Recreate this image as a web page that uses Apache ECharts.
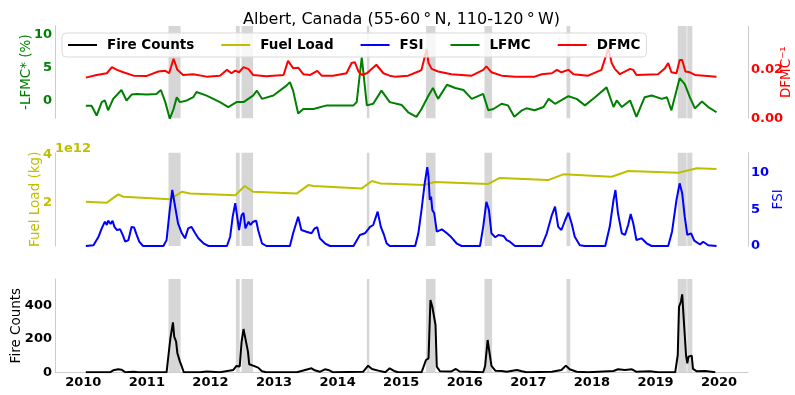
<!DOCTYPE html>
<html>
<head>
<meta charset="utf-8">
<script src="https://cdn.jsdelivr.net/npm/echarts@6/dist/echarts.min.js"></script>
<style>
  html, body { margin: 0; padding: 0; background: #fff; }
  #chart { width: 795px; height: 395px; }
</style>
</head>
<body>
<div id="chart"></div>
<script>
// Time is expressed in decimal years.
const yearTicks = [2010, 2011, 2012, 2013, 2014, 2015, 2016, 2017, 2018, 2019, 2020];

// Fire-season windows shaded on every panel
const seasonStart = [2011.34, 2012.40, 2012.49, 2014.46, 2015.39, 2016.31, 2017.60, 2019.35, 2019.50];
const seasonEnd   = [2011.53, 2012.46, 2012.67, 2014.50, 2015.54, 2016.43, 2017.66, 2019.49, 2019.58];

// -LFMC* (%)
const lfmcYears = [
  2010.04, 2010.13, 2010.21, 2010.29, 2010.34, 2010.39, 2010.47, 2010.60, 2010.68, 2010.76, 2010.84,
  2011.00, 2011.15, 2011.22, 2011.29, 2011.36, 2011.42, 2011.47, 2011.52, 2011.63, 2011.73, 2011.78, 2011.94,
  2012.15, 2012.28, 2012.41, 2012.52, 2012.67, 2012.73, 2012.81, 2012.99,
  2013.20, 2013.25, 2013.30, 2013.38, 2013.46, 2013.62, 2013.83,
  2014.04, 2014.25, 2014.30, 2014.38, 2014.46, 2014.56, 2014.69, 2014.82,
  2015.01, 2015.11, 2015.24, 2015.32, 2015.43, 2015.50, 2015.58, 2015.72, 2015.85, 2015.98,
  2016.11, 2016.29, 2016.37, 2016.45, 2016.58, 2016.68, 2016.78, 2016.90, 2016.97,
  2017.10, 2017.24, 2017.32, 2017.42, 2017.63, 2017.76, 2017.89,
  2018.05, 2018.23, 2018.34, 2018.39, 2018.47, 2018.60, 2018.70, 2018.83, 2018.94,
  2019.10, 2019.18, 2019.25, 2019.38, 2019.46, 2019.54, 2019.62, 2019.73, 2019.83, 2019.96
];
const lfmcValues = [
  -0.8, -0.8, -2.3, -0.25, 0, -1.5, 0.25, 1.6, 0, 0.9, 1.0,
  0.9, 1.0, 1.6, -0.25, -2.8, -1.3, 0.5, -0.25, 0, 0.5, 1.3, 0.75,
  -0.25, -1.0, -0.25, -0.25, 0.75, 1.5, 0.25, 0.75,
  2.3, 2.8, 1.5, -2.0, -1.3, -1.3, -0.75,
  -0.75, -0.75, -0.25, 6.6, -0.75, -0.5, 1.5, -0.25,
  -0.7, -1.8, -2.5, -1.3, 0.75, 1.9, 0.25, 2.4, 1.9, 1.6,
  0.25, 1.0, -1.5, -1.3, -0.5, -0.75, -2.5, -1.5, -1.2,
  -1.5, -1.0, 0.25, -0.5, 0.65, 0.25, -0.75,
  0.5, 2.0, -1.0, 0, -1.0, 0, -2.5, 0.5, 0.75,
  0.25, 0.5, -1.5, 3.4, 2.5, 0.5, -1.2, -0.15, -1.0, -1.8
];

// DFMC^-1
const dfmcYears = [
  2010.04, 2010.21, 2010.37, 2010.45, 2010.53, 2010.63, 2010.79,
  2011.00, 2011.18, 2011.29, 2011.35, 2011.42, 2011.48, 2011.57, 2011.73, 2011.94,
  2012.15, 2012.26, 2012.33, 2012.39, 2012.45, 2012.52, 2012.60, 2012.67, 2012.88,
  2013.15, 2013.22, 2013.30, 2013.38, 2013.46, 2013.57, 2013.68, 2013.75, 2013.93,
  2014.14, 2014.22, 2014.27, 2014.33, 2014.38, 2014.46, 2014.61, 2014.72, 2014.82, 2014.90,
  2015.11, 2015.27, 2015.32, 2015.40, 2015.43, 2015.48, 2015.58, 2015.79,
  2016.11, 2016.29, 2016.34, 2016.42, 2016.58, 2016.79,
  2017.10, 2017.21, 2017.37, 2017.45, 2017.52, 2017.63, 2017.71, 2017.94,
  2018.15, 2018.26, 2018.31, 2018.36, 2018.44, 2018.60, 2018.65, 2018.70,
  2019.04, 2019.15, 2019.20, 2019.25, 2019.33, 2019.38, 2019.42, 2019.47, 2019.54, 2019.62, 2019.96
];
const dfmcValues = [
  0.0168, 0.0179, 0.0186, 0.0211, 0.0200, 0.0190, 0.0176,
  0.0175, 0.0193, 0.0196, 0.0186, 0.0246, 0.0200, 0.0179, 0.0182, 0.0172,
  0.0176, 0.0200, 0.0186, 0.0197, 0.0190, 0.0211, 0.0203, 0.0179, 0.0174,
  0.0179, 0.0237, 0.0207, 0.0209, 0.0182, 0.0179, 0.0196, 0.0176, 0.0176,
  0.0186, 0.0228, 0.0232, 0.0193, 0.0179, 0.0186, 0.0221, 0.0186, 0.0176, 0.0172,
  0.0176, 0.0193, 0.0200, 0.0285, 0.0228, 0.0204, 0.0193, 0.0182,
  0.0176, 0.0200, 0.0214, 0.0190, 0.0176, 0.0172,
  0.0172, 0.0182, 0.0186, 0.0200, 0.0190, 0.0200, 0.0182, 0.0176,
  0.0200, 0.0290, 0.0228, 0.0204, 0.0182, 0.0204, 0.0200, 0.0179,
  0.0182, 0.0207, 0.0228, 0.0190, 0.0186, 0.0241, 0.0241, 0.0193, 0.0190, 0.0179, 0.0172
];

// Fuel load (kg)
const fuelYears = [
  2010.04, 2010.37, 2010.55, 2010.63, 2011.36, 2011.55, 2011.68, 2012.39, 2012.54, 2012.67,
  2013.36, 2013.54, 2013.62, 2014.38, 2014.54, 2014.67, 2014.95, 2015.35, 2015.53, 2016.37,
  2016.55, 2017.31, 2017.55, 2018.31, 2018.57, 2019.36, 2019.65, 2019.96
];
const fuelValues = [
  2.04e12, 2.00e12, 2.35e12, 2.25e12, 2.14e12, 2.46e12, 2.39e12, 2.31e12, 2.70e12, 2.46e12,
  2.39e12, 2.74e12, 2.70e12, 2.60e12, 2.91e12, 2.81e12, 2.78e12, 2.74e12, 2.87e12, 2.79e12,
  3.04e12, 2.95e12, 3.19e12, 3.09e12, 3.33e12, 3.26e12, 3.45e12, 3.42e12
];

// Fire Spread Index
const fsiYears = [
  2010.04, 2010.16, 2010.24, 2010.29, 2010.34, 2010.37, 2010.39, 2010.43, 2010.46, 2010.49, 2010.53,
  2010.58, 2010.62, 2010.66, 2010.71, 2010.76, 2010.80, 2010.84, 2010.88, 2010.94,
  2011.26, 2011.31, 2011.36, 2011.40, 2011.44, 2011.49, 2011.55, 2011.60, 2011.65, 2011.70, 2011.76, 2011.81, 2011.89, 2011.97,
  2012.26, 2012.31, 2012.35, 2012.39, 2012.42, 2012.45, 2012.49, 2012.52, 2012.55, 2012.60, 2012.63, 2012.67, 2012.72, 2012.75, 2012.81, 2012.88,
  2013.25, 2013.30, 2013.38, 2013.43, 2013.51, 2013.59, 2013.64, 2013.68, 2013.72, 2013.80, 2013.88,
  2014.25, 2014.35, 2014.43, 2014.51, 2014.56, 2014.63, 2014.68, 2014.73, 2014.77, 2014.82,
  2015.22, 2015.27, 2015.32, 2015.37, 2015.41, 2015.43, 2015.45, 2015.47, 2015.49, 2015.52, 2015.56, 2015.64, 2015.72, 2015.79, 2015.87, 2015.95,
  2016.24, 2016.29, 2016.34, 2016.38, 2016.42, 2016.48, 2016.53, 2016.61, 2016.66, 2016.71, 2016.79,
  2017.21, 2017.29, 2017.37, 2017.42, 2017.47, 2017.52, 2017.58, 2017.63, 2017.68, 2017.73, 2017.81, 2017.89,
  2018.21, 2018.28, 2018.34, 2018.37, 2018.41, 2018.47, 2018.52, 2018.57, 2018.61, 2018.65, 2018.70, 2018.78, 2018.86, 2018.94,
  2019.20, 2019.26, 2019.33, 2019.38, 2019.42, 2019.46, 2019.50, 2019.56, 2019.61, 2019.70, 2019.75, 2019.83, 2019.96
];
const fsiValues = [
  0, 0.1, 1.26, 2.4, 3.3, 2.85, 3.43, 3.0, 3.43, 2.6, 2.17,
  2.26, 1.5, 0.6, 0.8, 2.6, 2.5, 1.5, 0.6, 0,
  0, 0.8, 4.9, 7.6, 5.56, 3.08, 1.72, 1.04, 2.4, 2.6, 1.72, 1.04, 0.37, 0,
  0, 1.26, 3.98, 5.8, 3.98, 2.17, 4.2, 4.5, 2.4, 3.3, 2.85, 3.3, 3.43, 2.17, 0.37, 0,
  0, 1.72, 3.98, 2.17, 1.94, 1.72, 2.4, 2.54, 1.04, 0.37, 0,
  0, 1.5, 1.72, 2.6, 2.85, 4.66, 2.6, 1.5, 0.37, 0,
  0, 1.72, 4.9, 8.5, 10.7, 9.4, 6.24, 6.7, 4.9, 4.44, 1.94, 2.26, 1.72, 1.18, 0.37, 0,
  0, 2.6, 6.0, 4.9, 1.72, 1.18, 1.5, 1.36, 0.81, 0.58, 0,
  0, 1.72, 4.2, 5.33, 2.6, 2.17, 3.53, 4.52, 3.08, 1.26, 0.1, 0,
  0, 2.6, 6.24, 7.6, 4.44, 1.72, 1.5, 2.85, 4.34, 3.08, 0.81, 1.04, 0.37, 0,
  0, 1.94, 6.24, 8.5, 7.15, 3.98, 1.5, 1.72, 0.72, 0.2, 0.58, 0.1, 0
];

// Fire counts
const fireYears = [
  2010.04, 2010.42, 2010.47, 2010.55, 2010.60, 2010.66, 2010.79, 2010.87,
  2011.31, 2011.34, 2011.37, 2011.41, 2011.43, 2011.46, 2011.48, 2011.52, 2011.55, 2011.58, 2011.84, 2011.94,
  2012.15, 2012.36, 2012.41, 2012.46, 2012.49, 2012.52, 2012.55, 2012.59, 2012.61, 2012.67, 2012.75, 2012.81, 2012.88,
  2013.36, 2013.49, 2013.59, 2013.64, 2013.72, 2013.80, 2013.87, 2013.93,
  2014.40, 2014.48, 2014.54, 2014.64, 2014.75, 2014.82, 2014.90, 2014.95,
  2015.32, 2015.39, 2015.43, 2015.46, 2015.49, 2015.52, 2015.54, 2015.56, 2015.61, 2015.79, 2015.86, 2015.92,
  2016.29, 2016.32, 2016.36, 2016.39, 2016.42, 2016.48, 2016.58, 2016.66, 2016.82, 2016.85, 2016.90, 2016.97,
  2017.37, 2017.52, 2017.59, 2017.65, 2017.76, 2017.94,
  2018.34, 2018.41, 2018.52, 2018.63, 2018.70, 2018.91, 2019.04,
  2019.31, 2019.35, 2019.37, 2019.40, 2019.42, 2019.45, 2019.48, 2019.50, 2019.52, 2019.57, 2019.59, 2019.65, 2019.78, 2019.94
];
const fireValues = [
  0, 0, 12, 18, 16, 0, 3, 0,
  0, 104, 204, 300, 214, 184, 114, 64, 34, 0, 0, 5,
  0, 14, 38, 35, 184, 260, 268, 124, 48, 40, 28, 6, 0,
  0, 14, 24, 12, 3, 18, 12, 0,
  3, 40, 20, 10, 0, 24, 6, 0,
  0, 74, 84, 434, 394, 388, 284, 34, 6, 5, 20, 5,
  0, 38, 194, 184, 38, 10, 8, 3, 14, 24, 6, 0,
  3, 14, 40, 18, 3, 0,
  8, 18, 14, 18, 3, 6, 0,
  0, 104, 394, 424, 468, 284, 104, 54, 94, 100, 20, 6, 8, 0
];

const FONT = 'DejaVu Sans';
const C_LFMC = '#008000', C_DFMC = '#ff0000', C_FUEL = '#bfbf00', C_FSI = '#0000ff', C_FIRE = '#000000';
const SPINE = '#cccccc';
const LINE_W = 2;

const pairs = (xs, ys) => xs.map((x, i) => [x, ys[i]]);
const seasonAreas = seasonStart.map((s, i) => [{ xAxis: s }, { xAxis: seasonEnd[i] }]);
const shading = {
  silent: true,
  itemStyle: { color: '#d6d6d6' },
  label: { show: false },
  data: seasonAreas
};

const xRange = { min: 2009.555, max: 2020.455 };
function xAxisFor(gridIndex, withLabels) {
  return {
    type: 'value', gridIndex, ...xRange,
    axisLine: withLabels ? { show: true, onZero: false, lineStyle: { color: SPINE, width: 1 } } : { show: false },
    axisTick: { show: false },
    splitLine: { show: false },
    axisLabel: withLabels ? {
      customValues: yearTicks, margin: 4,
      fontFamily: FONT, fontWeight: 'bold', fontSize: 13, color: '#000',
      formatter: v => String(Math.round(v))
    } : { show: false }
  };
}
function yAxisFor(cfg) {
  return {
    type: 'value', gridIndex: cfg.grid, position: cfg.pos,
    min: cfg.min, max: cfg.max,
    name: cfg.name, nameLocation: 'middle', nameGap: cfg.gap, nameRotate: 90,
    nameMoveOverlap: false,
    nameTextStyle: { fontFamily: FONT, fontSize: 13.5, color: cfg.color },
    axisLine: { show: true, onZero: false, lineStyle: { color: SPINE, width: 1 } },
    axisTick: { show: false },
    splitLine: { show: false },
    axisLabel: {
      customValues: cfg.ticks, margin: 3,
      fontFamily: FONT, fontWeight: 'bold', fontSize: 13, color: cfg.color,
      formatter: cfg.fmt
    }
  };
}

const panelBox = { left: 55, width: 693, containLabel: false, outerBoundsMode: 'none' };

const option = {
  animation: false,
  backgroundColor: '#ffffff',
  title: {
    text: 'Albert, Canada (55-60\u2009°\u2009N, 110-120\u2009°\u2009W)',
    left: 238, top: 7,
    textStyle: { fontFamily: FONT, fontSize: 16, fontWeight: 'normal', color: '#000' }
  },
  legend: {
    data: ['Fire Counts', 'Fuel Load', 'FSI', 'LFMC', 'DFMC'],
    left: 62, top: 33,
    itemWidth: 29, itemHeight: 14, itemGap: 26,
    padding: [5, 6, 5, 5],
    backgroundColor: 'rgba(255,255,255,0.8)',
    borderColor: '#d9d9d9', borderWidth: 1, borderRadius: 4,
    selectedMode: false,
    itemStyle: { opacity: 0 },
    textStyle: { fontFamily: FONT, fontWeight: 'bold', fontSize: 13.5, color: '#000', padding: [0, 0, 0, 5] }
  },
  graphic: [{
    type: 'text', left: 55, top: 142,
    style: { text: '1e12', fontFamily: FONT, fontWeight: 'bold', fontSize: 13, fill: C_FUEL }
  }],
  grid: [
    { ...panelBox, top: 26, height: 92.3 },
    { ...panelBox, top: 152.7, height: 93.3 },
    { ...panelBox, top: 279, height: 93.3 }
  ],
  xAxis: [xAxisFor(0, false), xAxisFor(1, false), xAxisFor(2, true)],
  yAxis: [
    yAxisFor({ grid: 0, pos: 'left', min: -2.72, max: 11.37, name: '-LFMC* (%)', gap: 22, color: C_LFMC, ticks: [0, 5, 10], fmt: v => String(v) }),
    yAxisFor({ grid: 0, pos: 'right', min: 0, max: 0.0381, name: 'DFMC\u207B\u00B9', gap: 31, color: C_DFMC, ticks: [0, 0.02], fmt: v => v.toFixed(2) }),
    yAxisFor({ grid: 1, pos: 'left', min: 0.18e12, max: 4.1e12, name: 'Fuel Load (kg)', gap: 13, color: C_FUEL, ticks: [2e12, 4e12], fmt: v => String(Math.round(v / 1e12)) }),
    yAxisFor({ grid: 1, pos: 'right', min: 0, max: 12.66, name: 'FSI', gap: 23, color: C_FSI, ticks: [0, 5, 10], fmt: v => String(v) }),
    yAxisFor({ grid: 2, pos: 'left', min: 0, max: 560.7, name: 'Fire Counts', gap: 32, color: C_FIRE, ticks: [0, 200, 400], fmt: v => String(v) })
  ],
  series: [
    {
      name: 'Fire Counts', type: 'line', xAxisIndex: 2, yAxisIndex: 4,
      symbol: 'none', data: pairs(fireYears, fireValues),
      lineStyle: { color: C_FIRE, width: LINE_W }, itemStyle: { color: C_FIRE },
      markArea: shading
    },
    {
      name: 'Fuel Load', type: 'line', xAxisIndex: 1, yAxisIndex: 2,
      symbol: 'none', data: pairs(fuelYears, fuelValues),
      lineStyle: { color: C_FUEL, width: LINE_W }, itemStyle: { color: C_FUEL },
      markArea: shading
    },
    {
      name: 'FSI', type: 'line', xAxisIndex: 1, yAxisIndex: 3,
      symbol: 'none', data: pairs(fsiYears, fsiValues),
      lineStyle: { color: C_FSI, width: LINE_W }, itemStyle: { color: C_FSI }
    },
    {
      name: 'LFMC', type: 'line', xAxisIndex: 0, yAxisIndex: 0,
      symbol: 'none', data: pairs(lfmcYears, lfmcValues),
      lineStyle: { color: C_LFMC, width: LINE_W }, itemStyle: { color: C_LFMC },
      markArea: shading
    },
    {
      name: 'DFMC', type: 'line', xAxisIndex: 0, yAxisIndex: 1,
      symbol: 'none', data: pairs(dfmcYears, dfmcValues),
      lineStyle: { color: C_DFMC, width: LINE_W }, itemStyle: { color: C_DFMC }
    }
  ]
};

const chart = echarts.init(document.getElementById('chart'), null, { renderer: 'canvas' });
chart.setOption(option);
</script>
</body>
</html>
